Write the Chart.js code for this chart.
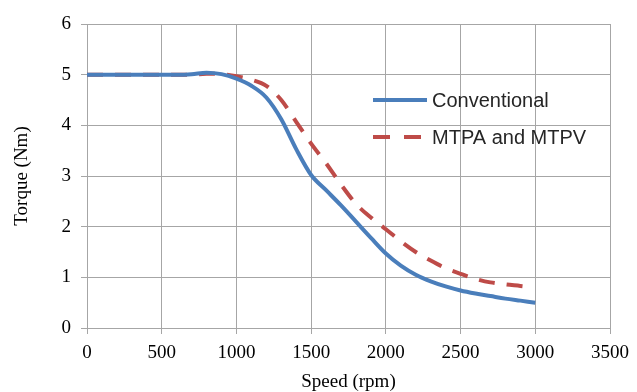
<!DOCTYPE html>
<html>
<head>
<meta charset="utf-8">
<script src="https://cdn.jsdelivr.net/npm/chart.js@4.4.1/dist/chart.umd.min.js"></script>
<style>
  html, body { margin: 0; padding: 0; background: #fff; }
  #wrap { width: 637px; height: 392px; }
</style>
</head>
<body>
<div id="wrap"><canvas id="myChart"></canvas></div>
<script>
// speed (rpm) and torque (Nm)
const speedConv = [0, 200, 400, 600, 700, 800, 900, 1000, 1100, 1200, 1300, 1400, 1500, 1600, 1700, 1800, 1900, 2000, 2100, 2200, 2300, 2400, 2500, 2600, 2700, 2800, 2900, 3000]
const torqueConv = [5.0, 5.0, 5.0, 5.0, 5.01, 5.04, 5.01, 4.92, 4.78, 4.55, 4.12, 3.53, 3.02, 2.72, 2.42, 2.1, 1.78, 1.47, 1.23, 1.05, 0.92, 0.82, 0.74, 0.68, 0.63, 0.58, 0.54, 0.5]

const speedMtpa = [0, 200, 400, 600, 700, 800, 900, 1000, 1100, 1200, 1300, 1400, 1500, 1600, 1700, 1800, 1900, 2000, 2100, 2200, 2300, 2400, 2500, 2600, 2700, 2800, 2900, 2990]
const torqueMtpa = [5.0, 5.0, 5.0, 5.0, 5.0, 5.02, 5.01, 4.97, 4.9, 4.78, 4.5, 4.07, 3.64, 3.25, 2.83, 2.45, 2.18, 1.95, 1.71, 1.5, 1.33, 1.18, 1.07, 0.97, 0.9, 0.86, 0.83, 0.8]

const xTicks = [0, 500, 1000, 1500, 2000, 2500, 3000, 3500]
const yTicks = [0, 1, 2, 3, 4, 5, 6]

const toPoints = (xs, ys) => xs.map((x, i) => ({ x: x, y: ys[i] }))

const gridColor = '#a6a6a6'
const serif = "'Liberation Serif', 'Times New Roman', serif"
const sans = "'Liberation Sans', Arial, sans-serif"

// legend drawn inside the plot, to the right like the original
const insideLegend = {
    id: 'insideLegend',
    afterDraw(chart) {
        const c = chart.ctx
        const items = chart.data.datasets
        c.save()
        items.forEach((ds, i) => {
            const y = 100 + i * 37
            c.strokeStyle = ds.borderColor
            c.lineWidth = ds.borderWidth
            c.setLineDash(ds.borderDash ? [17, 14] : [])
            c.beginPath()
            c.moveTo(373, y)
            c.lineTo(427, y)
            c.stroke()
            c.setLineDash([])
            c.fillStyle = '#262626'
            c.font = '20px ' + sans
            c.textBaseline = 'middle'
            c.fillText(ds.label, 432, y + 1)
        })
        c.restore()
    }
}

const ctx = document.getElementById('myChart')
const chartData = {
    type: 'line',
    data: {
        datasets: [{
            label: 'Conventional',
            data: toPoints(speedConv, torqueConv),
            borderColor: '#4a7ebb',
            borderWidth: 4,
            pointRadius: 0,
            cubicInterpolationMode: 'monotone',
            fill: false
        }, {
            label: 'MTPA and MTPV',
            data: toPoints(speedMtpa, torqueMtpa),
            borderColor: '#be4b48',
            borderWidth: 4,
            borderDash: [16, 12],
            pointRadius: 0,
            cubicInterpolationMode: 'monotone',
            fill: false
        }]
    },
    options: {
        responsive: true,
        maintainAspectRatio: false,
        animation: false,
        layout: { padding: { top: 24, right: 23, left: 0, bottom: 0 } },
        plugins: {
            legend: { display: false },
            tooltip: { enabled: false }
        },
        scales: {
            x: {
                type: 'linear',
                min: 0,
                max: 3500,
                afterBuildTicks: (s) => { s.ticks = xTicks.map(v => ({ value: v })) },
                afterFit: (s) => { s.height = 64 },
                grid: { color: gridColor, tickLength: 6, lineWidth: 1 },
                border: { color: gridColor, width: 1 },
                ticks: { color: '#000', font: { family: serif, size: 19 }, padding: 8, maxRotation: 0, callback: (v) => String(v) },
                title: { display: true, text: 'Speed (rpm)', color: '#000', font: { family: serif, size: 19, lineHeight: 1 }, padding: { top: 0, bottom: 0 } }
            },
            y: {
                min: 0,
                max: 6,
                afterBuildTicks: (s) => { s.ticks = yTicks.map(v => ({ value: v })) },
                afterFit: (s) => { s.width = 87 },
                grid: { color: gridColor, tickLength: 6, lineWidth: 1 },
                border: { color: gridColor, width: 1 },
                ticks: { color: '#000', font: { family: serif, size: 19 }, padding: 10, callback: (v) => String(v) },
                title: { display: true, text: 'Torque (Nm)', color: '#000', font: { family: serif, size: 19 }, padding: { top: 11, bottom: 0 } }
            }
        }
    },
    plugins: [insideLegend]
}
const myChart = new Chart(ctx, chartData)
</script>
</body>
</html>
